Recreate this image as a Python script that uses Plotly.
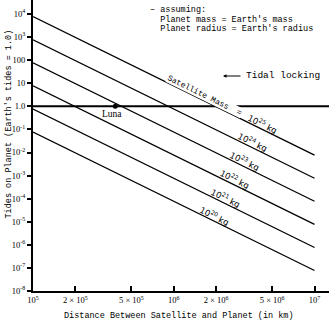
import math
import plotly.graph_objects as go

# Satellite masses (powers of ten, kg) and the tide each one raises on the planet,
# relative to Earth's lunar tide, at the two ends of the distance range.
satellite_mass_exp = [25, 24, 23, 22, 21, 20]
distance_km = [1e5, 1e7]
tides_at_near = [7.7e3, 7.7e2, 77, 7.7, 0.77, 0.077]
tides_at_far = [7.7e-3, 7.7e-4, 7.7e-5, 7.7e-6, 7.7e-7, 7.7e-8]

luna_distance_km = 3.84e5
luna_tides = 1.0
tidal_locking_level = 1.0

x_tickvals = [1e5, 2e5, 5e5, 1e6, 2e6, 5e6, 1e7]
x_ticktext = ["10<sup>5</sup>", "2 × 10<sup>5</sup>", "5 × 10<sup>5</sup>", "10<sup>6</sup>",
              "2 × 10<sup>6</sup>", "5 × 10<sup>6</sup>", "10<sup>7</sup>"]
y_tickvals = [1e4, 1e3, 100, 10, 1, 1e-1, 1e-2, 1e-3, 1e-4, 1e-5, 1e-6, 1e-7, 1e-8]
y_ticktext = ["10<sup>4</sup>", "10<sup>3</sup>", "100", "10", "1.0", "10<sup>-1</sup>",
              "10<sup>-2</sup>", "10<sup>-3</sup>", "10<sup>-4</sup>", "10<sup>-5</sup>",
              "10<sup>-6</sup>", "10<sup>-7</sup>", "10<sup>-8</sup>"]

MONO = "Liberation Mono"
SERIF = "Liberation Serif"
SANS = "DejaVu Sans"
W, H = 329, 326
L, R, T, B = 33, 0, 0, 35
PW, PH = W - L - R, H - T - B


def px(x):
    return (x - L) / PW


def py(y):
    return 1 - (y - T) / PH


fig = go.Figure()

for near, far in zip(tides_at_near, tides_at_far):
    fig.add_trace(go.Scatter(x=distance_km, y=[near, far], mode="lines",
                             line=dict(color="black", width=1.3),
                             hoverinfo="skip", showlegend=False))

fig.add_trace(go.Scatter(x=[luna_distance_km], y=[luna_tides], mode="markers",
                         marker=dict(color="black", size=5),
                         hoverinfo="skip", showlegend=False))

annotations = []

log_near_d, log_far_d = math.log10(distance_km[0]), math.log10(distance_km[1])


def on_line(near, far, xl):
    ln, lf = math.log10(near), math.log10(far)
    return ln + (lf - ln) * (xl - log_near_d) / (log_far_d - log_near_d)


# mass labels sit just above their own lines, rotated to follow the slope
label_pos_log = [6.634, 6.563, 6.506, 6.435, 6.371, 6.293]
angle = 26.2
for exp, near, far, xl in zip(satellite_mass_exp, tides_at_near, tides_at_far, label_pos_log):
    annotations.append(dict(x=xl, y=on_line(near, far, xl), xref="x", yref="y",
                            showarrow=False, xanchor="center", yanchor="middle",
                            text=f"10<sup>{exp}</sup> kg", textangle=angle, yshift=6,
                            font=dict(family=SANS, size=8.5, color="black")))

# "Satellite Mass =" heading along the top line
xh = 6.222
annotations.append(dict(x=xh, y=on_line(tides_at_near[0], tides_at_far[0], xh),
                        xref="x", yref="y", showarrow=False,
                        xanchor="center", yanchor="middle",
                        text="Satellite Mass  =", textangle=angle, yshift=6,
                        bgcolor="white", borderpad=0,
                        font=dict(family=MONO, size=8, color="black")))

# Luna
annotations.append(dict(x=math.log10(luna_distance_km), y=math.log10(luna_tides),
                        xref="x", yref="y", showarrow=False, text="Luna",
                        xanchor="center", yanchor="middle",
                        xshift=-3, yshift=-8,
                        font=dict(family=SERIF, size=9.5, color="black")))

# assumptions note
note = ["– assuming:", "  Planet mass = Earth's mass", "  Planet radius = Earth's radius"]
for line, yy in zip(note, [10, 20, 29.5]):
    annotations.append(dict(x=px(148), y=py(yy), xref="paper", yref="paper",
                            xanchor="left", yanchor="middle", showarrow=False,
                            text=line.replace(" ", "&nbsp;"),
                            font=dict(family=MONO, size=8.5, color="black")))

# tidal locking pointer
annotations.append(dict(x=px(244), y=py(76), xref="paper", yref="paper",
                        xanchor="left", yanchor="middle", showarrow=False,
                        text="Tidal locking",
                        font=dict(family=MONO, size=9.5, color="black")))
annotations.append(dict(x=px(223), y=py(76), xref="paper", yref="paper",
                        ax=19, ay=0, showarrow=True, arrowhead=2, arrowsize=0.7,
                        arrowwidth=1, arrowcolor="black", text=""))

# axis titles
annotations.append(dict(x=px(178.5), y=py(316), xref="paper", yref="paper",
                        showarrow=False, xanchor="center", yanchor="middle",
                        text="Distance Between Satellite and Planet (in km)",
                        font=dict(family=MONO, size=8.5, color="black")))
annotations.append(dict(x=px(8), y=py(124.5), xref="paper", yref="paper",
                        showarrow=False, textangle=-90,
                        xanchor="center", yanchor="middle",
                        text="Tides on Planet (Earth's tides = 1.0)",
                        font=dict(family=MONO, size=8.5, color="black")))

fig.update_layout(
    width=W, height=H,
    margin=dict(l=L, r=R, t=T, b=B),
    paper_bgcolor="white", plot_bgcolor="white",
    showlegend=False,
    annotations=annotations,
    shapes=[dict(type="line", xref="paper", yref="y", x0=0, x1=1,
                 y0=tidal_locking_level, y1=tidal_locking_level,
                 line=dict(color="black", width=2), layer="below")],
    xaxis=dict(type="log", range=[5, 7.103], showgrid=False, zeroline=False,
               showline=True, linecolor="black", linewidth=2,
               ticks="inside", ticklen=5, tickwidth=2, tickcolor="black",
               tickvals=x_tickvals, ticktext=x_ticktext,
               tickfont=dict(family=SERIF, size=8.5, color="black")),
    yaxis=dict(type="log", range=[-8, 4.607], showgrid=False, zeroline=False,
               showline=True, linecolor="black", linewidth=2,
               ticks="outside", ticklen=4, tickwidth=2, tickcolor="black",
               tickvals=y_tickvals, ticktext=y_ticktext,
               tickfont=dict(family=SERIF, size=8.5, color="black")),
)

fig.write_html("out.html")
